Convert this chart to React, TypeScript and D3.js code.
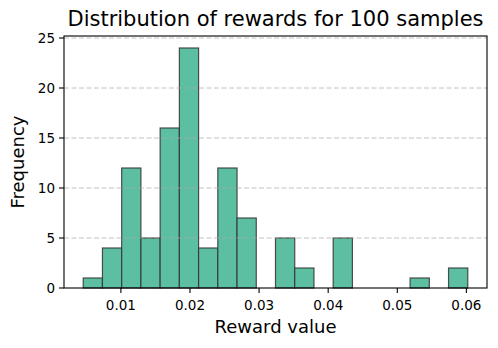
import React from "react";
import * as d3 from "d3";

// histogram of 100 reward samples, 20 equal bins between binMin and binMax
const binMin = 0.00455;
const binMax = 0.0602;
const counts = [1, 4, 12, 5, 16, 24, 4, 12, 7, 0, 5, 2, 0, 5, 0, 0, 0, 1, 0, 2];
const xTicks = [0.01, 0.02, 0.03, 0.04, 0.05, 0.06];
const yTicks = [0, 5, 10, 15, 20, 25];

const W = 498, H = 348;
const margin = { left: 64, right: 11, top: 36, bottom: 60 };

export default function App() {
  const n = counts.length;
  const bw = (binMax - binMin) / n;
  const bins = counts.map((c, i) => ({ x0: binMin + i * bw, x1: binMin + (i + 1) * bw, c }));

  const pad = (binMax - binMin) * 0.05;
  const x = d3.scaleLinear().domain([binMin - pad, binMax + pad]).range([margin.left, W - margin.right]);
  const y = d3.scaleLinear().domain([0, 25.2]).range([H - margin.bottom, margin.top]);
  const font = "DejaVu Sans, sans-serif";

  return (
    <svg width={W} height={H} style={{ position: "absolute", left: 0, top: 0, background: "#fff" }}>
      <g>
        {bins.filter(b => b.c > 0).map((b, i) => (
          <rect key={i} x={x(b.x0)} y={y(b.c)} width={x(b.x1) - x(b.x0)} height={y(0) - y(b.c)}
            fill="#5cbfa2" stroke="#333" strokeOpacity={0.85} strokeWidth={1.2} />
        ))}
      </g>
      <g>
        {yTicks.slice(1).map(t => (
          <line key={t} x1={margin.left} x2={W - margin.right} y1={y(t)} y2={y(t)}
            stroke="#aaa" strokeOpacity={0.7} strokeDasharray="5,2.5" strokeWidth={1} />
        ))}
      </g>
      <rect x={margin.left} y={margin.top} width={W - margin.left - margin.right} height={H - margin.top - margin.bottom}
        fill="none" stroke="#000" strokeWidth={1.1} />
      <g fontFamily={font} fontSize={13.5} fill="#000">
        {xTicks.map(t => (
          <g key={t}>
            <line x1={x(t)} x2={x(t)} y1={y(0)} y2={y(0) + 5} stroke="#000" strokeWidth={1.1} />
            <text x={x(t)} y={y(0) + 22} textAnchor="middle">{d3.format(".2f")(t)}</text>
          </g>
        ))}
        {yTicks.map(t => (
          <g key={t}>
            <line x1={margin.left - 5} x2={margin.left} y1={y(t)} y2={y(t)} stroke="#000" strokeWidth={1.1} />
            <text x={margin.left - 9} y={y(t) + 5} textAnchor="end">{t}</text>
          </g>
        ))}
      </g>
      <text x={(margin.left + W - margin.right) / 2} y={333} textAnchor="middle" fontFamily={font} fontSize={18}>Reward value</text>
      <text transform={`translate(24,${(margin.top + H - margin.bottom) / 2}) rotate(-90)`} textAnchor="middle"
        fontFamily={font} fontSize={18}>Frequency</text>
      <text x={(margin.left + W - margin.right) / 2} y={26} textAnchor="middle" fontFamily={font} fontSize={21}>
        Distribution of rewards for 100 samples
      </text>
    </svg>
  );
}
